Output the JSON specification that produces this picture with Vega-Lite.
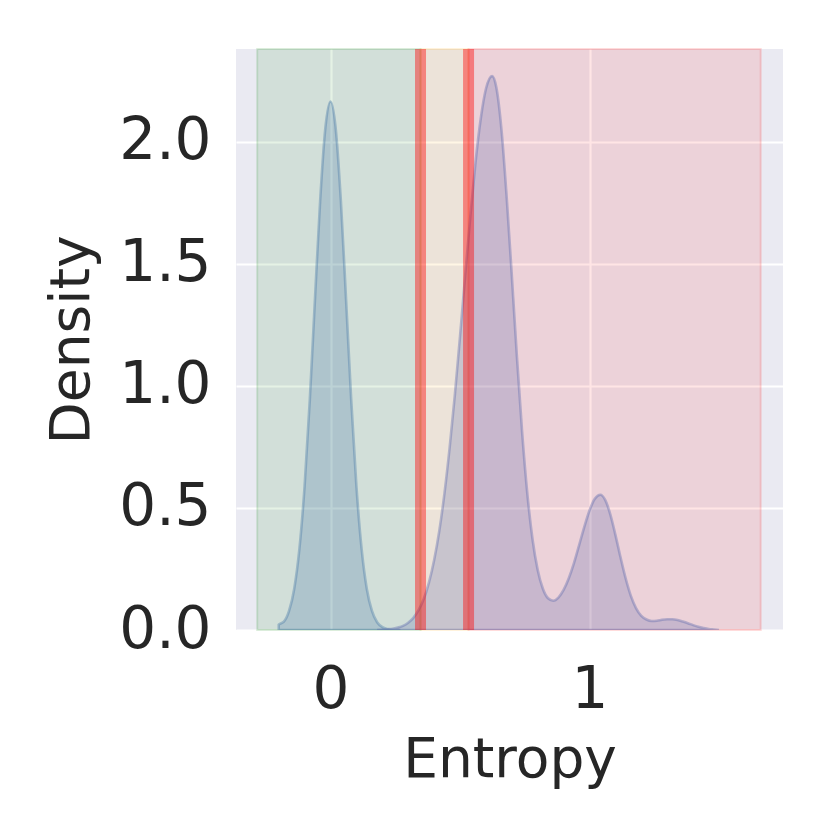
{
  "$schema": "https://vega.github.io/schema/vega-lite/v6.json",
  "width": 547,
  "height": 581,
  "autosize": "none",
  "padding": {"left": 236, "top": 49, "right": 49, "bottom": 202},
  "background": "white",
  "config": {
    "view": {"fill": "#EAEAF2", "stroke": null},
    "font": "DejaVu Sans",
    "axis": {
      "grid": true, "gridColor": "white", "gridWidth": 2.2, "gridOpacity": 1,
      "domain": false, "ticks": false,
      "labelFont": "DejaVu Sans", "labelFontSize": 58, "labelColor": "#262626",
      "titleFont": "DejaVu Sans", "titleFontSize": 55, "titleColor": "#262626", "titleFontWeight": "normal"
    }
  },
  "datasets": {
    "zones": [
      {"x0": -0.283, "x1": 0.3475, "zone": "low"},
      {"x0": 0.3475, "x1": 0.533, "zone": "mid"},
      {"x0": 0.533, "x1": 1.661, "zone": "high"}
    ],
    "thresholds": [{"t": 0.3475}, {"t": 0.533}],
    "dens": [
      {"g": "A", "x": -0.2, "d": 0.0},
      {"g": "A", "x": -0.1999, "d": 0.022},
      {"g": "A", "x": -0.18, "d": 0.034},
      {"g": "A", "x": -0.16, "d": 0.078},
      {"g": "A", "x": -0.14, "d": 0.169},
      {"g": "A", "x": -0.12, "d": 0.333},
      {"g": "A", "x": -0.10, "d": 0.590},
      {"g": "A", "x": -0.08, "d": 0.942},
      {"g": "A", "x": -0.06, "d": 1.356},
      {"g": "A", "x": -0.04, "d": 1.759},
      {"g": "A", "x": -0.02, "d": 2.056},
      {"g": "A", "x": 0.0, "d": 2.166},
      {"g": "A", "x": 0.02, "d": 2.056},
      {"g": "A", "x": 0.04, "d": 1.759},
      {"g": "A", "x": 0.06, "d": 1.356},
      {"g": "A", "x": 0.08, "d": 0.942},
      {"g": "A", "x": 0.10, "d": 0.590},
      {"g": "A", "x": 0.12, "d": 0.333},
      {"g": "A", "x": 0.14, "d": 0.169},
      {"g": "A", "x": 0.16, "d": 0.078},
      {"g": "A", "x": 0.18, "d": 0.032},
      {"g": "A", "x": 0.20, "d": 0.012},
      {"g": "A", "x": 0.22, "d": 0.004},
      {"g": "A", "x": 0.24, "d": 0.001},
      {"g": "A", "x": 0.27, "d": 0.0},
      {"g": "B", "x": 0.18, "d": 0.0},
      {"g": "B", "x": 0.20, "d": 0.001},
      {"g": "B", "x": 0.22, "d": 0.003},
      {"g": "B", "x": 0.24, "d": 0.005},
      {"g": "B", "x": 0.26, "d": 0.010},
      {"g": "B", "x": 0.28, "d": 0.017},
      {"g": "B", "x": 0.30, "d": 0.030},
      {"g": "B", "x": 0.32, "d": 0.050},
      {"g": "B", "x": 0.34, "d": 0.081},
      {"g": "B", "x": 0.36, "d": 0.127},
      {"g": "B", "x": 0.38, "d": 0.194},
      {"g": "B", "x": 0.40, "d": 0.286},
      {"g": "B", "x": 0.42, "d": 0.406},
      {"g": "B", "x": 0.44, "d": 0.560},
      {"g": "B", "x": 0.46, "d": 0.747},
      {"g": "B", "x": 0.48, "d": 0.963},
      {"g": "B", "x": 0.50, "d": 1.202},
      {"g": "B", "x": 0.52, "d": 1.452},
      {"g": "B", "x": 0.54, "d": 1.696},
      {"g": "B", "x": 0.56, "d": 1.917},
      {"g": "B", "x": 0.58, "d": 2.095},
      {"g": "B", "x": 0.60, "d": 2.217},
      {"g": "B", "x": 0.624, "d": 2.270},
      {"g": "B", "x": 0.64, "d": 2.225},
      {"g": "B", "x": 0.66, "d": 2.052},
      {"g": "B", "x": 0.68, "d": 1.777},
      {"g": "B", "x": 0.70, "d": 1.453},
      {"g": "B", "x": 0.72, "d": 1.116},
      {"g": "B", "x": 0.74, "d": 0.809},
      {"g": "B", "x": 0.76, "d": 0.558},
      {"g": "B", "x": 0.78, "d": 0.372},
      {"g": "B", "x": 0.80, "d": 0.246},
      {"g": "B", "x": 0.82, "d": 0.169},
      {"g": "B", "x": 0.84, "d": 0.130},
      {"g": "B", "x": 0.86, "d": 0.120},
      {"g": "B", "x": 0.88, "d": 0.133},
      {"g": "B", "x": 0.90, "d": 0.164},
      {"g": "B", "x": 0.92, "d": 0.212},
      {"g": "B", "x": 0.94, "d": 0.274},
      {"g": "B", "x": 0.96, "d": 0.348},
      {"g": "B", "x": 0.98, "d": 0.423},
      {"g": "B", "x": 1.00, "d": 0.490},
      {"g": "B", "x": 1.02, "d": 0.537},
      {"g": "B", "x": 1.042, "d": 0.554},
      {"g": "B", "x": 1.06, "d": 0.534},
      {"g": "B", "x": 1.08, "d": 0.475},
      {"g": "B", "x": 1.10, "d": 0.390},
      {"g": "B", "x": 1.12, "d": 0.297},
      {"g": "B", "x": 1.14, "d": 0.210},
      {"g": "B", "x": 1.16, "d": 0.139},
      {"g": "B", "x": 1.18, "d": 0.089},
      {"g": "B", "x": 1.20, "d": 0.058},
      {"g": "B", "x": 1.22, "d": 0.043},
      {"g": "B", "x": 1.24, "d": 0.037},
      {"g": "B", "x": 1.26, "d": 0.038},
      {"g": "B", "x": 1.28, "d": 0.042},
      {"g": "B", "x": 1.30, "d": 0.044},
      {"g": "B", "x": 1.32, "d": 0.044},
      {"g": "B", "x": 1.34, "d": 0.041},
      {"g": "B", "x": 1.36, "d": 0.035},
      {"g": "B", "x": 1.38, "d": 0.028},
      {"g": "B", "x": 1.40, "d": 0.020},
      {"g": "B", "x": 1.42, "d": 0.013},
      {"g": "B", "x": 1.44, "d": 0.008},
      {"g": "B", "x": 1.46, "d": 0.004},
      {"g": "B", "x": 1.48, "d": 0.002},
      {"g": "B", "x": 1.50, "d": 0.0}
    ]
  },
  "layer": [
    {
      "data": {"name": "zones"},
      "mark": {"type": "rect", "fillOpacity": 0.1, "strokeOpacity": 0.14, "strokeWidth": 2},
      "encoding": {
        "x": {"field": "x0", "type": "quantitative",
              "scale": {"domain": [-0.3649, 1.7471], "nice": false, "zero": false},
              "axis": {"values": [0, 1], "format": "d", "labelPadding": 31, "titlePadding": 14},
              "title": "Entropy"},
        "x2": {"field": "x1"},
        "color": {"field": "zone", "type": "nominal",
                  "scale": {"domain": ["low", "mid", "high"], "range": ["green", "orange", "red"]},
                  "legend": null},
        "stroke": {"field": "zone", "type": "nominal",
                  "scale": {"domain": ["low", "mid", "high"], "range": ["green", "orange", "red"]},
                  "legend": null}
      }
    },
    {
      "data": {"name": "dens"},
      "mark": {"type": "area", "interpolate": "monotone", "fillOpacity": 0.25, "strokeOpacity": 0.38, "strokeWidth": 2.6, "clip": true},
      "encoding": {
        "x": {"field": "x", "type": "quantitative"},
        "y": {"field": "d", "type": "quantitative", "stack": null,
              "scale": {"domain": [0, 2.381], "nice": false},
              "axis": {"values": [0, 0.5, 1, 1.5, 2], "format": ".1f", "labelPadding": 25, "titlePadding": 18},
              "title": "Density"},
        "fill": {"field": "g", "type": "nominal", "scale": {"domain": ["A", "B"], "range": ["#4475a6", "#5a66ac"]}, "legend": null},
        "stroke": {"field": "g", "type": "nominal", "scale": {"domain": ["A", "B"], "range": ["#4475a6", "#5a66ac"]}, "legend": null}
      }
    },
    {
      "data": {"name": "thresholds"},
      "mark": {"type": "rule", "color": "red", "strokeWidth": 11, "opacity": 0.42},
      "encoding": {"x": {"field": "t", "type": "quantitative"}}
    }
  ],
  "resolve": {"scale": {"color": "independent", "stroke": "independent", "fill": "independent"}}
}
